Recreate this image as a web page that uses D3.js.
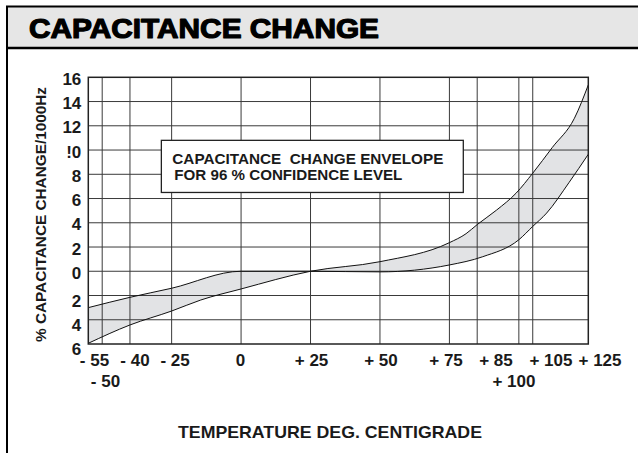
<!DOCTYPE html>
<html>
<head>
<meta charset="utf-8">
<script src="https://cdn.jsdelivr.net/npm/d3@7/dist/d3.min.js"></script>
<style>
  html, body { margin: 0; padding: 0; background: #fff; }
  svg { display: block; }
  text { font-family: "Liberation Sans", Arial, Helvetica, sans-serif; font-weight: bold; fill: #1a1a1a; }
</style>
</head>
<body>
<svg id="chart" width="638" height="453"></svg>
<script>
// ---------------- DATA ----------------
const chartTitle = "CAPACITANCE CHANGE";
const xTitle = "TEMPERATURE DEG. CENTIGRADE";
const yTitle = "% CAPACITANCE CHANGE/1000Hz";
const boxLines = ["CAPACITANCE  CHANGE ENVELOPE", "FOR 96 % CONFIDENCE LEVEL"];

const xTickValues = [-55, -50, -40, -25, 0, 25, 50, 75, 85, 100, 105, 125];
const xTickLabels = ["- 55", "- 50", "- 40", "- 25", "0", "+ 25", "+ 50", "+ 75", "+ 85", "+ 100", "+ 105", "+ 125"];

const yTickValues = [16, 14, 12, 10, 8, 6, 4, 2, 0, -2, -4, -6];
const yTickLabels = ["16", "14", "12", "!0", "8", "6", "4", "2", "0", "2", "4", "6"];

// envelope boundary A (upper on the cold side, lower on the hot side)
const envATemps  = [-55, -40, -25, 0, 25, 50, 75, 87, 100, 105, 110, 118, 125];
const envAValues = [-3.0, -2.15, -1.4, 0, 0, -0.05, 0.52, 1.2, 2.6, 3.7, 4.8, 7.3, 9.65];

// envelope boundary B (lower on the cold side, upper on the hot side)
const envBTemps  = [-55, -40, -25, -14.5, 0, 25, 50, 75, 81, 85, 92, 99, 105, 112, 120, 125];
const envBValues = [-5.94, -4.43, -3.28, -2.37, -1.46, 0, 0.79, 2.36, 3.1, 3.85, 5.05, 6.44, 8.09, 10.2, 12.62, 15.37];

// ---------------- LAYOUT ----------------
const W = 638, H = 453;
const plot = { left: 88.3, right: 588.3, top: 77.3, bottom: 344 };
// label layout tweaks (horizontal nudges and second-row placement)
const xLabelDx = [5.7, 2.8, 4.5, 2.9, -1, 0.5, 0.5, -3.9, 18.3, -5.4, 17.7, 11.2];
const xLabelRow = [0, 1, 0, 0, 0, 0, 0, 0, 0, 1, 0, 0];

const svg = d3.select("#chart");

const x = d3.scaleLinear().domain([-55, 125]).range([plot.left, plot.right]);
const y = d3.scaleLinear().domain([-6, 16]).range([plot.bottom, plot.top]);

// ---------------- FRAME / HEADER ----------------
svg.append("rect").attr("x", 7).attr("y", 7).attr("width", W - 7).attr("height", 40)
  .attr("fill", "#e6e6e6");
svg.append("line").attr("x1", 6).attr("x2", W).attr("y1", 6.5).attr("y2", 6.5)
  .attr("stroke", "#000").attr("stroke-width", 2);
svg.append("line").attr("x1", 7).attr("x2", 7).attr("y1", 6).attr("y2", H)
  .attr("stroke", "#000").attr("stroke-width", 2);
svg.append("line").attr("x1", 6).attr("x2", W).attr("y1", 48).attr("y2", 48)
  .attr("stroke", "#000").attr("stroke-width", 2.5);

svg.append("text").attr("x", 29).attr("y", 38)
  .attr("font-size", 27).attr("textLength", 350).attr("lengthAdjust", "spacingAndGlyphs")
  .style("font-weight", "900").style("fill", "#000")
  .attr("stroke", "#000").attr("stroke-width", 1.2).attr("stroke-linejoin", "round")
  .text(chartTitle);

// ---------------- ENVELOPE FILL ----------------
const lineGen = d3.line().x(d => x(d[0])).y(d => y(d[1])).curve(d3.curveMonotoneX);
const aPts = envATemps.map((t, i) => [t, envAValues[i]]);
const bPts = envBTemps.map((t, i) => [t, envBValues[i]]);

// closed shape: A forward, B backward
const fillPath = lineGen(aPts) + "L" + lineGen(bPts.slice().reverse()).slice(1) + "Z";
svg.append("path").attr("d", fillPath).attr("fill", "#e2e3e5").attr("stroke", "none");

// ---------------- GRID ----------------
const grid = svg.append("g");
grid.selectAll("line.v").data(xTickValues.filter(v => v > -55 && v < 125)).join("line")
  .attr("x1", d => x(d)).attr("x2", d => x(d))
  .attr("y1", plot.top).attr("y2", plot.bottom)
  .attr("stroke", "#3a3a3a").attr("stroke-width", 1);
grid.selectAll("line.h").data(yTickValues.filter(v => v > -6 && v < 16)).join("line")
  .attr("x1", plot.left).attr("x2", plot.right)
  .attr("y1", d => y(d)).attr("y2", d => y(d))
  .attr("stroke", "#3a3a3a").attr("stroke-width", 1);

// ---------------- CURVES ----------------
svg.append("path").attr("d", lineGen(aPts)).attr("fill", "none")
  .attr("stroke", "#111").attr("stroke-width", 1);
svg.append("path").attr("d", lineGen(bPts)).attr("fill", "none")
  .attr("stroke", "#111").attr("stroke-width", 1);

// plot frame
svg.append("rect").attr("x", plot.left).attr("y", plot.top)
  .attr("width", plot.right - plot.left).attr("height", plot.bottom - plot.top)
  .attr("fill", "none").attr("stroke", "#222").attr("stroke-width", 1.5);

// ---------------- ANNOTATION BOX ----------------
const bx = x(-28.7), bx2 = x(80), by = y(10.8), by2 = y(6.5);
svg.append("rect").attr("x", bx).attr("y", by).attr("width", bx2 - bx).attr("height", by2 - by)
  .attr("fill", "#fff").attr("stroke", "#222").attr("stroke-width", 1.3);
svg.append("text").attr("x", bx + 11).attr("y", by + 23.5).attr("font-size", 15)
  .attr("textLength", 271).attr("lengthAdjust", "spacingAndGlyphs")
  .style("white-space", "pre").text(boxLines[0]);
svg.append("text").attr("x", bx + 13).attr("y", by + 40).attr("font-size", 15)
  .attr("textLength", 228).attr("lengthAdjust", "spacingAndGlyphs")
  .text(boxLines[1]);

// ---------------- AXES LABELS ----------------
const xAxis = d3.axisBottom(x).tickValues(xTickValues).tickSize(0)
  .tickFormat((d, i) => xTickLabels[i]);
const gx = svg.append("g").attr("transform", `translate(0,${plot.bottom})`).call(xAxis);
gx.select(".domain").remove();
gx.selectAll(".tick text")
  .attr("font-size", 17).attr("font-family", null)
  .attr("dx", (d, i) => xLabelDx[i])
  .attr("dy", null)
  .attr("y", (d, i) => xLabelRow[i] ? 43 : 22)
  .style("fill", "#1a1a1a");

const yAxis = d3.axisLeft(y).tickValues(yTickValues).tickSize(0)
  .tickFormat((d, i) => yTickLabels[i]);
const gy = svg.append("g").attr("transform", `translate(${plot.left - 7},0)`).call(yAxis);
gy.select(".domain").remove();
gy.selectAll(".tick text")
  .attr("font-size", 17).attr("font-family", null)
  .attr("x", 0)
  .attr("dy", d => d < 0 ? "0.62em" : "0.42em")
  .style("fill", "#1a1a1a");

svg.append("text").attr("x", 330).attr("y", 438).attr("text-anchor", "middle")
  .attr("font-size", 17).attr("textLength", 304).attr("lengthAdjust", "spacingAndGlyphs")
  .text(xTitle);

svg.append("text").attr("transform", `translate(46,${(87 + 342) / 2}) rotate(-90)`)
  .attr("text-anchor", "middle").attr("font-size", 15)
  .attr("textLength", 255).attr("lengthAdjust", "spacingAndGlyphs")
  .text(yTitle);
</script>
</body>
</html>
